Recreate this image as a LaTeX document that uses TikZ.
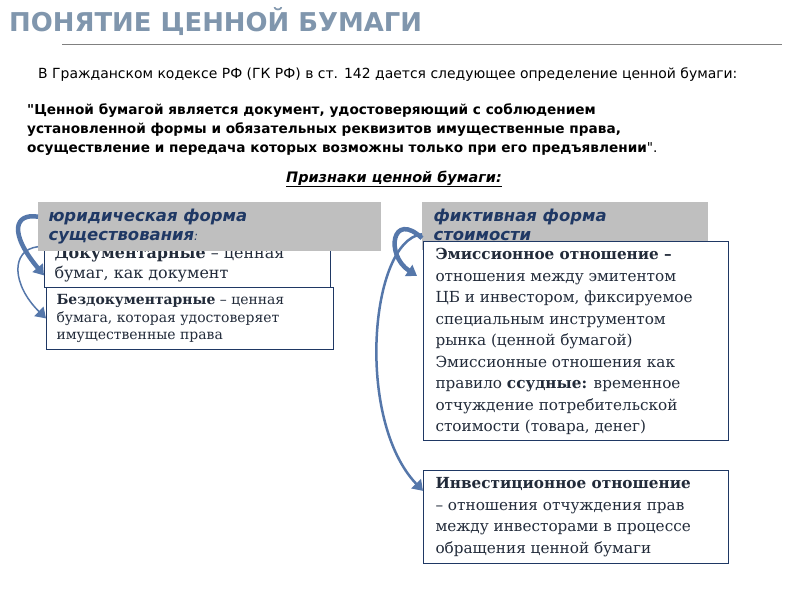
\documentclass[tikz,border=0pt]{standalone}
\usepackage{fontspec}
\setmainfont{DejaVu Serif}
\newfontfamily\sans{DejaVu Sans}
\usetikzlibrary{arrows.meta}
\definecolor{ttl}{HTML}{8096AD}
\definecolor{hdr}{HTML}{1F3864}
\definecolor{grayb}{HTML}{BFBFBF}
\definecolor{arr}{HTML}{5577AA}
\definecolor{dtxt}{HTML}{222B3A}
\begin{document}
\begin{tikzpicture}[x=1bp,y=-1bp,
  box/.style={draw=hdr,line width=0.8bp,fill=white,anchor=north west,inner sep=0pt,align=left},
  gbox/.style={fill=grayb,anchor=north west,inner sep=0pt},
  hd/.style={anchor=north west,align=left,text=hdr,font=\sans\bfseries\itshape\fontsize{16.5}{20}\selectfont},
  bt/.style={anchor=north west,align=left,text=dtxt},
  arw/.style={draw=arr,line width=4.5bp,-{Triangle[length=10bp,width=13bp]}},
  thin/.style={draw=black,line width=0.8bp}]
\useasboundingbox (0,0) rectangle (800,600);
\fill[white] (0,0) rectangle (800,600);
\node[anchor=west,text=ttl,font=\sans\bfseries\fontsize{26}{30}\selectfont,inner sep=0pt] (title) at (9,22) {ПОНЯТИЕ ЦЕННОЙ БУМАГИ};
\coordinate (l1) at (62,44); \coordinate (l2) at (782,44);
\draw[gray,line width=0.8bp] (l1) -- (l2);
\node[anchor=west,inner sep=0pt,font=\sans\fontsize{14}{16}\selectfont] (def) at (38,75) {В Гражданском кодексе РФ (ГК РФ) в ст. 142 дается следующее определение ценной бумаги:};
\node[anchor=north west,inner sep=0pt,align=left,font=\sans\bfseries\fontsize{13.7}{19.5}\selectfont] (quote) at (27,103) {"Ценной бумагой является документ, удостоверяющий с соблюдением\\установленной формы и обязательных реквизитов имущественные права,\\осуществление и передача которых возможны только при его предъявлении\textmd{".}};
\node[inner sep=0pt,font=\sans\bfseries\itshape\fontsize{14.5}{16}\selectfont] (sign) at (394,179) {\underline{Признаки ценной бумаги:}};
% left
\node[box,minimum width=286bp,minimum height=40bp] (doc) at (44,247) {};
\node[bt,font=\fontsize{16}{20}\selectfont] at (51,243) {\textbf{Документарные} – ценная\\бумаг, как документ};
\node[gbox,minimum width=343bp,minimum height=49bp] (lg) at (38,202) {};
\node[hd] at (45,205) {юридическая форма\\существования\textmd{\fontsize{12}{12}\selectfont:}};
\node[box,minimum width=287bp,minimum height=62bp] (bez) at (46,287) {};
\node[bt,font=\fontsize{14}{17.5}\selectfont] at (53,291) {\textbf{Бездокументарные} – ценная\\бумага, которая удостоверяет\\имущественные права};
% right
\node[gbox,minimum width=286bp,minimum height=48bp] (rg) at (422,202) {};
\node[hd] at (430,205) {фиктивная форма\\стоимости};
\node[box,minimum width=305bp,minimum height=199bp] (emi) at (423,241) {};
\node[bt,font=\fontsize{15.3}{21.6}\selectfont] at (432,245) {\textbf{Эмиссионное отношение –}\\отношения между эмитентом\\ЦБ и инвестором, фиксируемое\\специальным инструментом\\рынка (ценной бумагой)\\Эмиссионные отношения как\\правило \textbf{ссудные:} временное\\отчуждение потребительской\\стоимости (товара, денег)};
\node[box,minimum width=305bp,minimum height=93bp] (inv) at (423,470) {};
\node[bt,font=\fontsize{15.3}{21.6}\selectfont] at (432,474) {\textbf{Инвестиционное отношение}\\– отношения отчуждения прав\\между инвесторами в процессе\\обращения ценной бумаги};
% arrows
\draw[arw] ([yshift=10bp]lg.west) .. controls (15,213) and (8,232) .. ([yshift=-8bp]doc.west);
\draw[arw,line width=1.5bp] ([yshift=-20bp]lg.west) .. controls (10,250) and (12,285) .. (bez.west);
\draw[arw] ([yshift=-12bp]rg.west) .. controls (392,210) and (385,255) .. ([yshift=65bp,xshift=-6bp]emi.west);
\draw[arw,line width=2.5bp] ([yshift=-8bp]rg.west) .. controls (370,240) and (355,420) .. ([yshift=26bp]inv.west);
\end{tikzpicture}
\end{document}
